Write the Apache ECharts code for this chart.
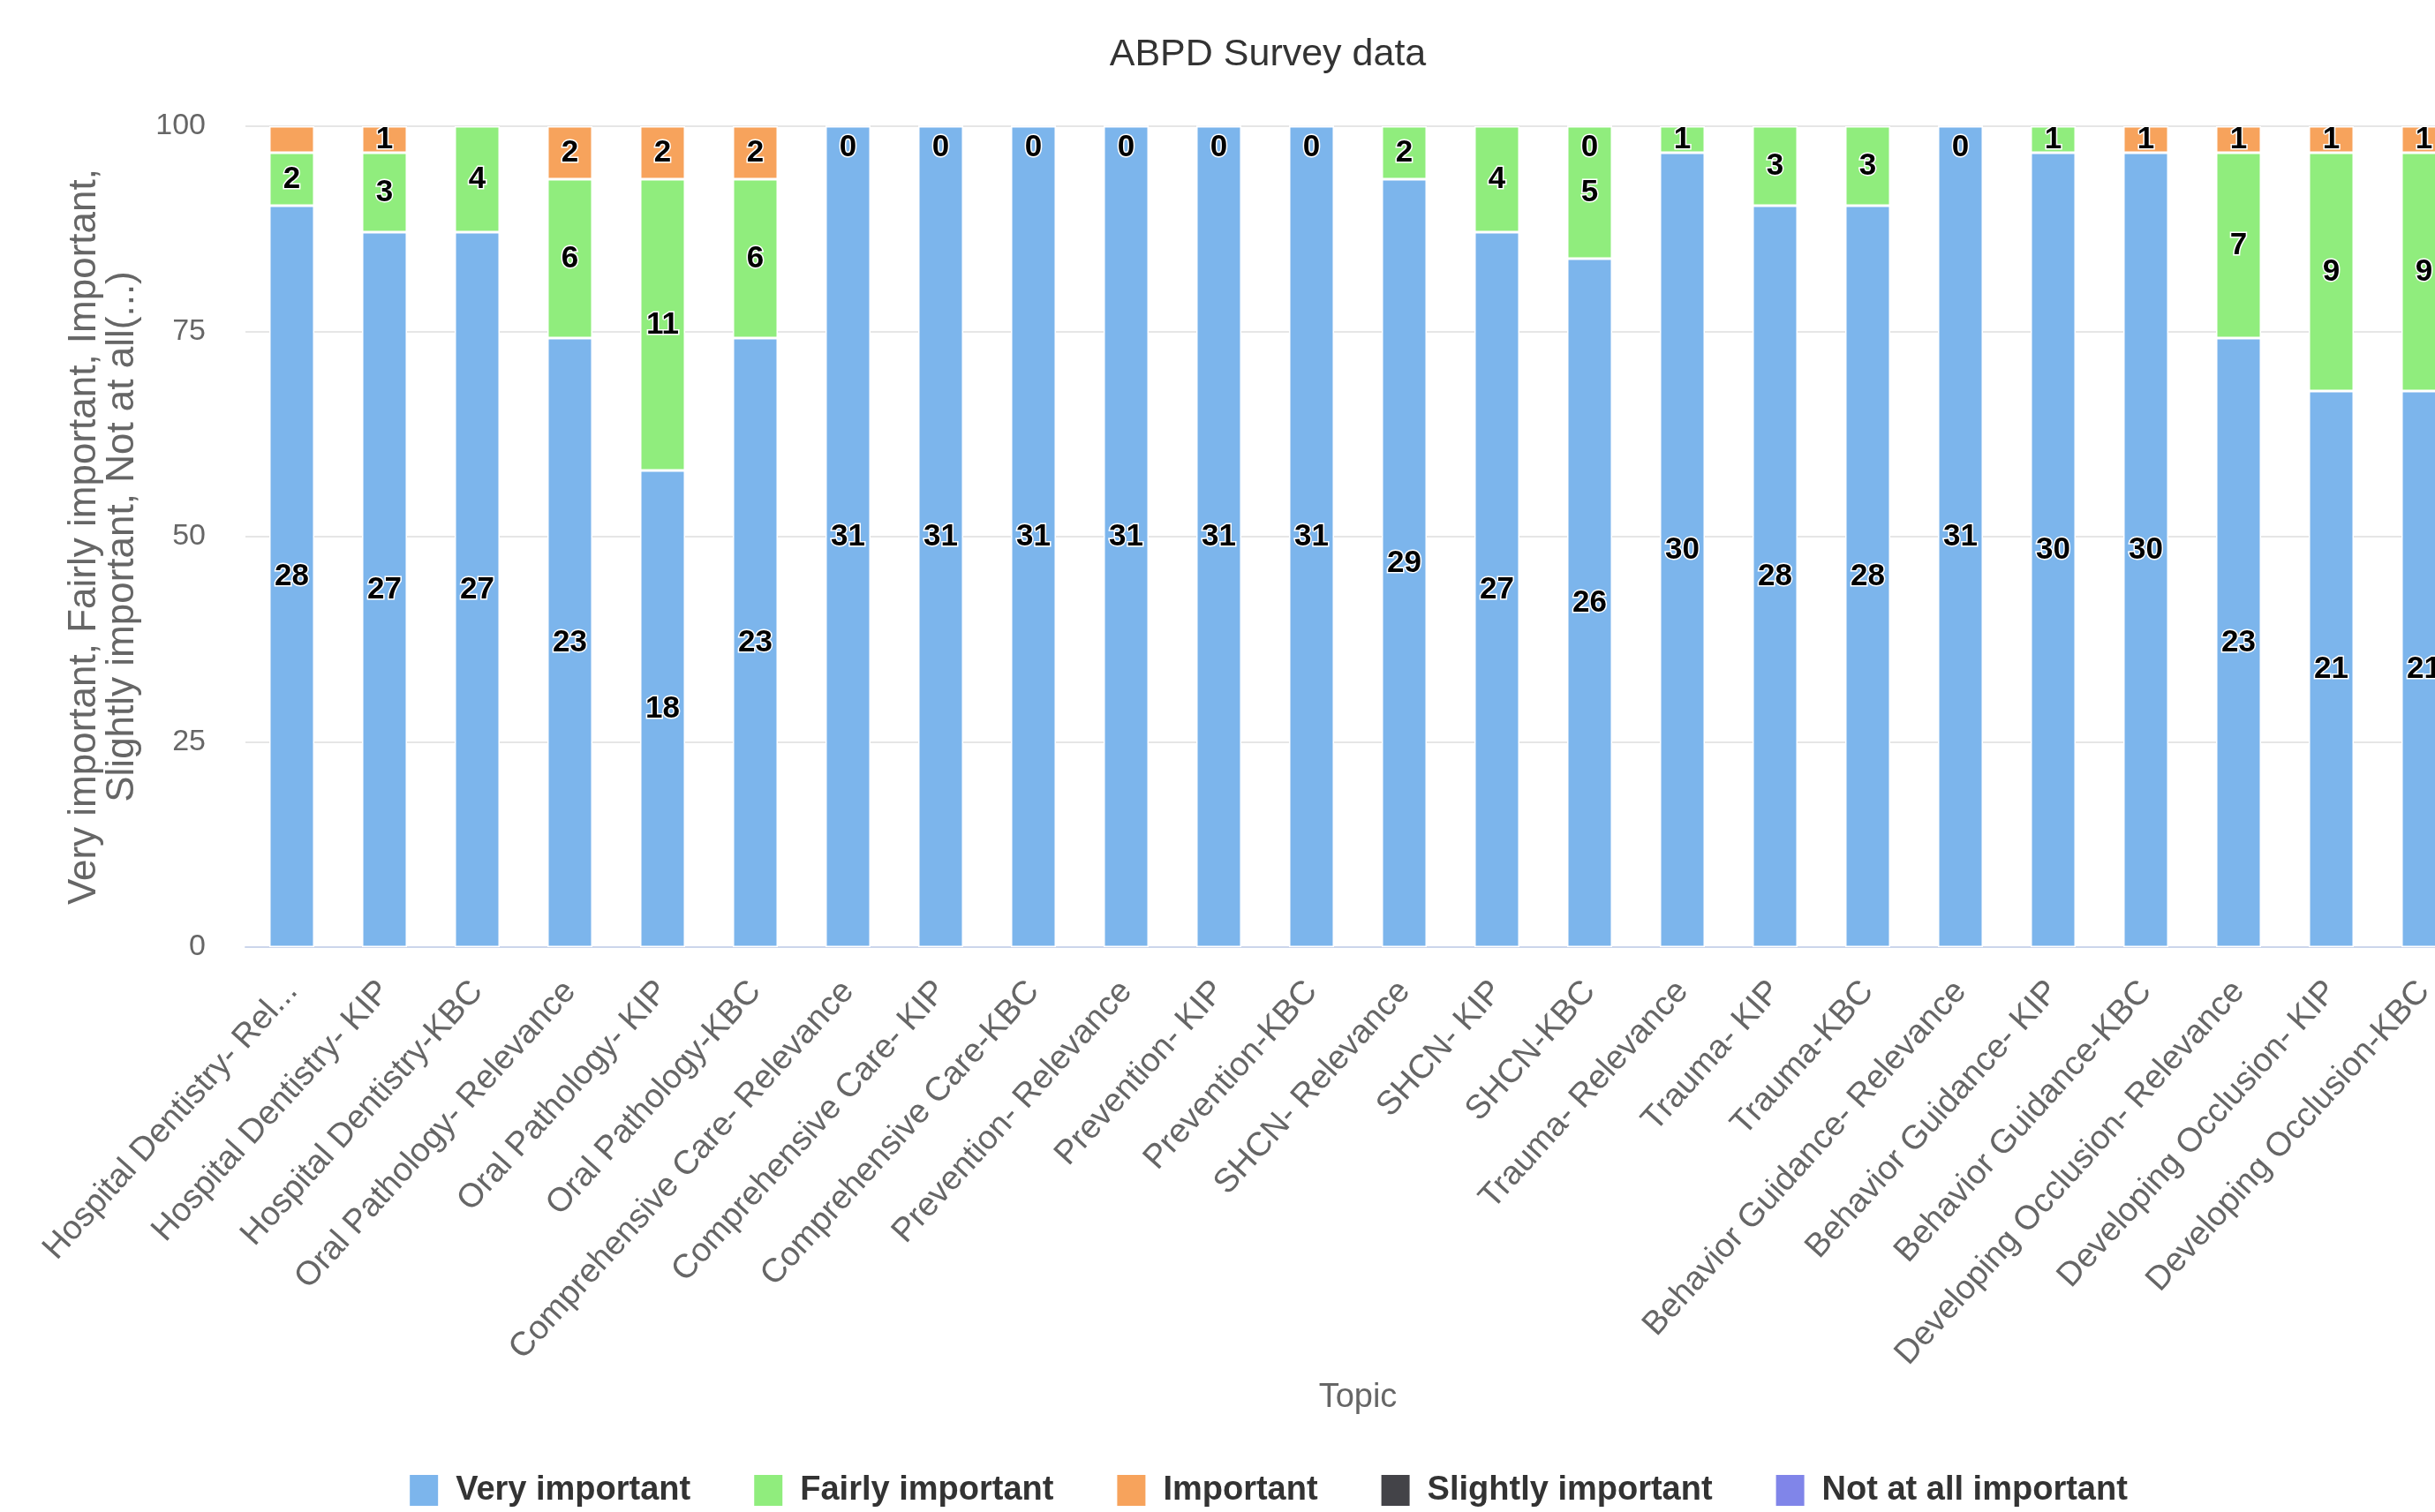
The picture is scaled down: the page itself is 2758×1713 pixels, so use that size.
<!DOCTYPE html>
<html>
<head>
<meta charset="utf-8">
<script src="https://cdn.jsdelivr.net/npm/echarts@6/dist/echarts.min.js"></script>
<style>
html, body { margin: 0; padding: 0; background: #fff; overflow: hidden; }
#chart { width: 2872px; height: 1713px; }
</style>
</head>
<body>
<div id="chart"></div>
<script>
const categories = [
  "Hospital Dentistry- Rel...", "Hospital Dentistry- KIP", "Hospital Dentistry-KBC",
  "Oral Pathology- Relevance", "Oral Pathology- KIP", "Oral Pathology-KBC",
  "Comprehensive Care- Relevance", "Comprehensive Care- KIP", "Comprehensive Care-KBC",
  "Prevention- Relevance", "Prevention- KIP", "Prevention-KBC",
  "SHCN- Relevance", "SHCN- KIP", "SHCN-KBC",
  "Trauma- Relevance", "Trauma- KIP", "Trauma-KBC",
  "Behavior Guidance- Relevance", "Behavior Guidance- KIP", "Behavior Guidance-KBC",
  "Developing Occlusion- Relevance", "Developing Occlusion- KIP", "Developing Occlusion-KBC"
];
const seriesNames = ["Very important", "Fairly important", "Important", "Slightly important", "Not at all important"];
const seriesColors = ["#7cb5ec", "#90ed7d", "#f7a35c", "#434348", "#8085e9"];

const veryImportant     = [28, 27, 27, 23, 18, 23, 31, 31, 31, 31, 31, 31, 29, 27, 26, 30, 28, 28, 31, 30, 30, 23, 21, 21];
const fairlyImportant   = [2, 3, 4, 6, 11, 6, 0, 0, 0, 0, 0, 0, 2, 4, 5, 1, 3, 3, 0, 1, null, 7, 9, 9];
const important         = [1, 1, null, 2, 2, 2, null, null, null, null, null, null, null, null, 0, null, null, null, null, null, 1, 1, 1, 1];
const slightlyImportant = [null, null, null, null, null, null, null, null, null, null, null, null, null, null, null, null, null, null, null, null, null, null, null, null];
const notAtAllImportant = [null, null, null, null, null, null, null, null, null, null, null, null, null, null, null, null, null, null, null, null, null, null, null, null];
const yTicks = [0, 25, 50, 75, 100];
// labels not drawn in the reference: [seriesIndex, categoryIndex]
const hiddenLabels = [[2, 0]];

const counts = [veryImportant, fairlyImportant, important, slightlyImportant, notAtAllImportant];
const totals = categories.map((_, i) => counts.reduce((s, arr) => s + (arr[i] || 0), 0));

const series = counts.map((arr, si) => ({
  name: seriesNames[si],
  type: 'bar',
  stack: 'total',
  barWidth: 51,
  itemStyle: { color: seriesColors[si], borderColor: '#ffffff', borderWidth: 1.5 },
  label: {
    show: true,
    position: 'inside',
    formatter: p => String(p.data.count),
    fontFamily: 'Liberation Sans',
    fontSize: 35,
    fontWeight: 'bold',
    color: '#000',
    textBorderColor: '#fff',
    textBorderWidth: 3
  },
  data: arr.map((c, i) => {
    if (c === null) return null;
    const item = { value: c / totals[i] * 100, count: c };
    if (hiddenLabels.some(h => h[0] === si && h[1] === i)) item.label = { show: false };
    else if (c === 0) item.label = { position: 'insideTop', distance: 8 };
    return item;
  })
}));

const chart = echarts.init(document.getElementById('chart'), null, { renderer: 'canvas' });
chart.setOption({
  animation: false,
  backgroundColor: '#ffffff',
  title: {
    text: 'ABPD Survey data',
    left: 'center',
    top: 36,
    textStyle: { fontFamily: 'Liberation Sans', fontSize: 43, fontWeight: 'normal', color: '#333333' }
  },
  legend: {
    data: seriesNames,
    left: 'center',
    top: 1664,
    icon: 'rect',
    itemWidth: 34,
    itemHeight: 37,
    itemGap: 70,
    textStyle: { fontFamily: 'Liberation Sans', fontSize: 38, fontWeight: 'bold', color: '#333333', padding: [0, 0, 0, 14] }
  },
  grid: { left: 278, right: 74, top: 143, bottom: 640, containLabel: false },
  xAxis: {
    type: 'category',
    data: categories,
    name: 'Topic',
    nameLocation: 'middle',
    nameGap: 492,
    nameTextStyle: { fontFamily: 'Liberation Sans', fontSize: 38, color: '#666666' },
    axisLine: { lineStyle: { color: '#ccd6eb', width: 2 } },
    axisTick: { show: false },
    axisLabel: {
      interval: 0,
      rotate: 48,
      margin: 44,
      fontFamily: 'Liberation Sans',
      fontSize: 38,
      color: '#666666'
    }
  },
  yAxis: {
    type: 'value',
    min: yTicks[0],
    max: yTicks[yTicks.length - 1],
    interval: yTicks[1] - yTicks[0],
    name: 'Very important, Fairly important, Important,\nSlightly important, Not at all(...)',
    nameLocation: 'middle',
    nameRotate: 90,
    nameGap: 118,
    nameTextStyle: { fontFamily: 'Liberation Sans', fontSize: 44, lineHeight: 43, color: '#666666', align: 'center' },
    axisLine: { show: false },
    axisTick: { show: false },
    axisLabel: { margin: 45, fontFamily: 'Liberation Sans', fontSize: 34, color: '#666666' },
    splitLine: { lineStyle: { color: '#e6e6e6', width: 2 } }
  },
  series: series
});
</script>
</body>
</html>
